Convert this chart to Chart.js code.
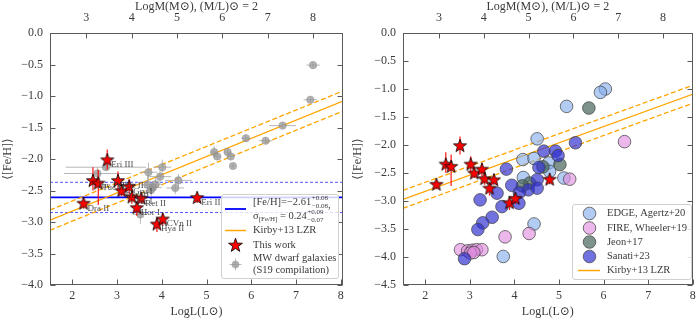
<!DOCTYPE html>
<html><head><meta charset="utf-8">
<script src="https://cdn.jsdelivr.net/npm/chart.js@4.4.1/dist/chart.umd.min.js"></script>
<style>
html,body{margin:0;padding:0;background:#fff;}
#wrap{display:flex;width:700px;height:321px;}
.c{position:relative;width:350px;height:321px;}
</style></head><body>
<div id="wrap"><div class="c"><canvas id="left"></canvas></div><div class="c"><canvas id="right"></canvas></div></div>
<script>
// ---------------- data ----------------
const xTicks = [2, 3, 4, 5, 6, 7, 8];
const mTicks = [3, 4, 5, 6, 7, 8];
const yTicksLeft = [0, -0.5, -1, -1.5, -2, -2.5, -3, -3.5, -4];
const yTicksRight = [0, -0.5, -1, -1.5, -2, -2.5, -3, -3.5, -4, -4.5];

// Kirby+13 luminosity-metallicity relation (end points) and its scatter
const kirbyX = [1.5, 8.05];
const kirbyMid = [-2.97, -1.08];
const kirbyUp = [-2.81, -0.92];
const kirbyLow = [-3.13, -1.24];

// mean [Fe/H] of this work and dispersion band
const meanX = [1.5, 8.05];
const meanFe = -2.61;
const meanHi = -2.37;
const meanLo = -2.85;

// This work (stars)
const starNames = ["Dra II", "Tuc IV", "Tuc II", "Eri III", "Phe II", "Ret III", "Gru I", "Pic I", "Ret II", "Hor I", "Hya II", "CVn II", "Eri II"];
const starL  = [2.25, 2.46, 2.58, 2.78, 3.02, 3.10, 3.27, 3.33, 3.54, 3.44, 3.89, 4.02, 4.79];
const starFe = [-2.71, -2.35, -2.39, -2.02, -2.35, -2.51, -2.44, -2.61, -2.63, -2.78, -3.04, -2.96, -2.62];
const starErrUp = [0.08, 0.22, 0.22, 0.17, 0.15, 0.08, 0.12, 0.08, 0.08, 0.10, 0.10, 0.10, 0.08];
const starErrDn = [0.08, 0.15, 0.34, 0.15, 0.15, 0.08, 0.12, 0.10, 0.08, 0.12, 0.12, 0.10, 0.08];

// MW dwarf galaxies (S19 compilation)
const mwL  = [7.38, 7.32, 6.70, 5.88, 6.32, 5.17, 5.24, 5.47, 5.54, 5.59, 4.01, 3.96, 4.37, 4.30, 3.70, 3.68, 3.80, 3.86, 3.76, 2.75, 2.56, 3.52];
const mwFe = [-0.51, -1.06, -1.47, -1.67, -1.71, -1.89, -1.96, -1.89, -1.96, -2.11, -2.13, -2.28, -2.34, -2.46, -2.21, -2.41, -2.45, -2.40, -2.49, -2.13, -2.23, -2.88];
const mwXerr = [0.15, 0.15, 0.30, 0.10, 0.15, 0.08, 0.08, 0.08, 0.08, 0.05, 0.20, 0.25, 0.30, 0.20, 0.20, 0.15, 0.20, 0.15, 0.10, 0.90, 0.75, 0.15];
const mwYerr = [0.04, 0.04, 0.04, 0.05, 0.05, 0.10, 0.05, 0.05, 0.05, 0.04, 0.12, 0.10, 0.10, 0.10, 0.15, 0.15, 0.10, 0.10, 0.10, 0.05, 0.10, 0.15];

// Simulations (right panel)
const edgeL  = [6.04, 5.93, 5.17, 4.51, 4.19, 4.44, 4.77, 4.79, 4.20, 5.11, 4.44, 3.75];
const edgeFe = [-1.00, -1.06, -1.31, -1.89, -2.26, -2.24, -2.32, -2.47, -2.58, -2.59, -3.41, -3.99];
const fireL  = [6.47, 5.24, 4.33, 3.79, 2.79, 2.95, 3.05, 3.15, 3.27, 3.01, 3.09];
const fireFe = [-1.94, -2.61, -3.58, -3.64, -3.87, -3.89, -3.88, -3.87, -3.87, -3.93, -3.92];
const jeonL  = [5.67, 5.02, 4.64, 4.34, 4.18];
const jeonFe = [-1.34, -2.35, -2.39, -2.68, -2.73];
const sanL  = [5.37, 4.66, 4.92, 4.98, 4.55, 3.82, 4.51, 3.94, 4.31, 4.51, 3.61, 4.11, 3.23, 3.72, 4.10, 3.50, 3.29, 3.18, 2.88];
const sanFe = [-1.96, -2.11, -2.11, -2.19, -2.40, -2.43, -2.62, -2.72, -2.80, -2.77, -2.86, -2.85, -2.98, -3.10, -3.04, -3.29, -3.39, -3.51, -4.03];

// ---------------- styling ----------------
const FONT = "'Liberation Serif', 'DejaVu Serif', serif";
const TXT = '#3a3a3a';
const FRAME = '#5a5a5a';
const ORANGE = '#ffa500';
const pts = (xs, ys) => xs.map((x, i) => ({x: x, y: ys[i]}));

function makeStar(R, r, lw) {
  const s = Math.ceil(2 * R + 2 * lw + 2);
  const c = document.createElement('canvas'); c.width = s; c.height = s;
  const g = c.getContext('2d');
  starPath(g, s / 2, s / 2, R, r);
  g.fillStyle = '#ff0000'; g.fill();
  g.lineWidth = lw; g.strokeStyle = '#000'; g.stroke();
  return c;
}
function starPath(g, cx, cy, R, r) {
  g.beginPath();
  for (let k = 0; k < 10; k++) {
    const a = -Math.PI / 2 + k * Math.PI / 5;
    const rad = k % 2 === 0 ? R : r;
    const x = cx + rad * Math.cos(a), y = cy + rad * Math.sin(a);
    if (k) g.lineTo(x, y); else g.moveTo(x, y);
  }
  g.closePath();
}
const starImg = makeStar(6.9, 2.8, 0.8);

function fmt(v) { return (v < 0 ? '\u2212' : '') + Math.abs(v).toFixed(1); }

function makeScales(yTicks, yMin, xMax, leftW) {
  const tickFont = {family: FONT, size: 12};
  return {
    x: {
      type: 'linear', position: 'bottom', min: 1.5, max: xMax,
      afterBuildTicks: s => { s.ticks = xTicks.map(v => ({value: v})); },
      afterFit: s => { s.height = 36; },
      grid: {display: false, drawTicks: false}, border: {display: false},
      ticks: {color: TXT, font: tickFont, padding: 4, maxRotation: 0, autoSkip: false, callback: v => String(v)},
      title: {display: true, text: 'LogL(L\u2299)', color: TXT, font: {family: FONT, size: 12}, padding: {top: 0, bottom: 2}}
    },
    x2: {
      type: 'linear', position: 'top', min: 2.2, max: 8.66,
      afterBuildTicks: s => { s.ticks = mTicks.map(v => ({value: v})); },
      afterFit: s => { s.height = 33; },
      grid: {display: false, drawTicks: false}, border: {display: false},
      ticks: {color: TXT, font: tickFont, padding: 8, maxRotation: 0, autoSkip: false, callback: v => String(v)},
      title: {display: true, text: 'LogM(M\u2299), (M/L)\u2299 = 2', color: TXT, font: {family: FONT, size: 12}, padding: {top: 0, bottom: 0}}
    },
    y: {
      type: 'linear', position: 'left', min: yMin, max: 0,
      afterBuildTicks: s => { s.ticks = yTicks.map(v => ({value: v})); },
      afterFit: s => { s.width = leftW; },
      grid: {display: false, drawTicks: false}, border: {display: false},
      ticks: {color: TXT, font: tickFont, padding: 7, autoSkip: false, callback: v => fmt(v)},
      title: {display: true, text: '\u27E8[Fe/H]\u27E9', color: TXT, font: {family: FONT, size: 12}, padding: {top: 1, bottom: 0}}
    }
  };
}

// frame + inward ticks
const framePlugin = {
  id: 'frameTicks',
  afterDatasetsDraw(chart) {
    const {ctx, chartArea: a, scales} = chart;
    ctx.save();
    ctx.strokeStyle = FRAME; ctx.lineWidth = 1;
    const L = Math.round(a.left) + 0.5, R = Math.round(a.right) - 0.5, T = Math.round(a.top) + 0.5, B = Math.round(a.bottom) - 0.5;
    ctx.strokeRect(L, T, R - L, B - T);
    ctx.beginPath();
    scales.y.ticks.forEach(t => {
      const p = Math.round(scales.y.getPixelForValue(t.value)) + 0.5;
      ctx.moveTo(L, p); ctx.lineTo(L + 5, p);
      ctx.moveTo(R, p); ctx.lineTo(R - 5, p);
    });
    scales.x.ticks.forEach(t => {
      const p = Math.round(scales.x.getPixelForValue(t.value)) + 0.5;
      ctx.moveTo(p, B); ctx.lineTo(p, B - 5);
    });
    scales.x2.ticks.forEach(t => {
      const p = Math.round(scales.x2.getPixelForValue(t.value)) + 0.5;
      ctx.moveTo(p, T); ctx.lineTo(p, T + 5);
    });
    ctx.stroke();
    ctx.restore();
  }
};

// error bars drawn under each dataset's markers
const errPlugin = {
  id: 'errbars',
  beforeDatasetDraw(chart, args) {
    const ds = chart.data.datasets[args.index];
    if (!ds.err) return;
    const {ctx, chartArea: a} = chart;
    const xs = chart.scales.x, ys = chart.scales.y, e = ds.err;
    ctx.save();
    ctx.beginPath(); ctx.rect(a.left, a.top, a.right - a.left, a.bottom - a.top); ctx.clip();
    ctx.strokeStyle = e.color; ctx.lineWidth = e.width;
    ctx.beginPath();
    ds.data.forEach((p, i) => {
      const px = xs.getPixelForValue(p.x), py = ys.getPixelForValue(p.y);
      if (e.up) {
        ctx.moveTo(px, ys.getPixelForValue(p.y + e.up[i]));
        ctx.lineTo(px, ys.getPixelForValue(p.y - e.dn[i]));
      }
      if (e.xe) {
        ctx.moveTo(xs.getPixelForValue(p.x - e.xe[i]), py);
        ctx.lineTo(xs.getPixelForValue(p.x + e.xe[i]), py);
      }
    });
    ctx.stroke();
    ctx.restore();
  }
};

// names next to stars
const namePlugin = {
  id: 'names',
  afterDatasetsDraw(chart) {
    const {ctx} = chart;
    chart.data.datasets.forEach(ds => {
      if (!ds.names) return;
      ctx.save();
      ctx.font = '9px ' + FONT; ctx.fillStyle = 'rgba(45,45,45,0.85)';
      ctx.textBaseline = 'middle'; ctx.textAlign = 'left';
      ds.data.forEach((p, i) => {
        const px = chart.scales.x.getPixelForValue(p.x), py = chart.scales.y.getPixelForValue(p.y);
        ctx.fillText(ds.names[i], px + 4, py + 4.5);
      });
      ctx.restore();
    });
  }
};

function roundBox(ctx, x, y, w, h, r) {
  ctx.beginPath();
  ctx.moveTo(x + r, y); ctx.lineTo(x + w - r, y); ctx.arcTo(x + w, y, x + w, y + r, r);
  ctx.lineTo(x + w, y + h - r); ctx.arcTo(x + w, y + h, x + w - r, y + h, r);
  ctx.lineTo(x + r, y + h); ctx.arcTo(x, y + h, x, y + h - r, r);
  ctx.lineTo(x, y + r); ctx.arcTo(x, y, x + r, y, r); ctx.closePath();
  ctx.fillStyle = 'rgba(255,255,255,0.82)'; ctx.fill();
  ctx.strokeStyle = '#d0d0d0'; ctx.lineWidth = 1; ctx.stroke();
}
function txt(ctx, s, x, y, size) {
  ctx.font = size + 'px ' + FONT;
  ctx.fillText(s, x, y);
  return x + ctx.measureText(s).width;
}
function supsub(ctx, x, y, sup, sub) {
  const a = txt(ctx, sup, x, y - 4, 7);
  const b = txt(ctx, sub, x, y + 4, 7);
  return Math.max(a, b);
}

const leftLegend = {
  id: 'leftLegend',
  afterDraw(chart) {
    const ctx = chart.ctx;
    ctx.save();
    roundBox(ctx, 221.5, 194.5, 117, 84, 2.5);
    ctx.fillStyle = TXT; ctx.textBaseline = 'middle'; ctx.textAlign = 'left';
    // blue mean line
    ctx.strokeStyle = '#0000ff'; ctx.lineWidth = 1.8;
    ctx.beginPath(); ctx.moveTo(225, 209); ctx.lineTo(246, 209); ctx.stroke();
    let x = txt(ctx, '[Fe/H]=\u22122.61', 253, 202, 10.5);
    x = supsub(ctx, x + 0.5, 202, '+0.08', '\u22120.08');
    txt(ctx, ',', x, 205, 10.5);
    x = txt(ctx, '\u03C3', 253, 216.5, 10.5);
    x = txt(ctx, '[Fe/H]', x, 219.5, 7);
    x = txt(ctx, ' = 0.24', x, 216.5, 10.5);
    supsub(ctx, x + 0.5, 216.5, '+0.09', '\u22120.07');
    // Kirby
    ctx.strokeStyle = ORANGE; ctx.lineWidth = 1.5;
    ctx.beginPath(); ctx.moveTo(225, 230.5); ctx.lineTo(246, 230.5); ctx.stroke();
    txt(ctx, 'Kirby+13 LZR', 253, 230.5, 10.5);
    // star
    starPath(ctx, 235.5, 245.5, 7.3, 2.9);
    ctx.fillStyle = '#ff0000'; ctx.fill(); ctx.strokeStyle = '#000'; ctx.lineWidth = 0.8; ctx.stroke();
    ctx.fillStyle = TXT;
    txt(ctx, 'This work', 253, 245.5, 10.5);
    // MW
    ctx.strokeStyle = '#bbbbbb'; ctx.lineWidth = 1;
    ctx.beginPath(); ctx.moveTo(229.5, 264.5); ctx.lineTo(241.5, 264.5); ctx.moveTo(235.5, 258.5); ctx.lineTo(235.5, 270.5); ctx.stroke();
    ctx.beginPath(); ctx.arc(235.5, 264.5, 3.8, 0, 2 * Math.PI);
    ctx.fillStyle = 'rgba(150,150,150,0.75)'; ctx.fill();
    ctx.fillStyle = TXT;
    txt(ctx, 'MW dwarf galaxies', 253, 258.5, 10.5);
    txt(ctx, '(S19 compilation)', 253, 270.5, 10.5);
    ctx.restore();
  }
};

const EDGE_C = 'rgba(130,172,235,0.62)';
const FIRE_C = 'rgba(225,140,225,0.62)';
const JEON_C = 'rgba(75,105,95,0.72)';
const SAN_C = 'rgba(45,45,210,0.68)';
const EDGE_LINE = 'rgba(70,70,70,0.75)';

const rightLegend = {
  id: 'rightLegend',
  afterDraw(chart) {
    const ctx = chart.ctx;
    ctx.save();
    roundBox(ctx, 222.5, 204.5, 119, 75, 2.5);
    ctx.textBaseline = 'middle'; ctx.textAlign = 'left';
    const rows = [[EDGE_C, 'EDGE, Agertz+20', 213.5], [FIRE_C, 'FIRE, Wheeler+19', 228], [JEON_C, 'Jeon+17', 242], [SAN_C, 'Sanati+23', 256.5]];
    rows.forEach(r => {
      ctx.beginPath(); ctx.arc(239.5, r[2], 6.3, 0, 2 * Math.PI);
      ctx.fillStyle = r[0]; ctx.fill(); ctx.strokeStyle = EDGE_LINE; ctx.lineWidth = 1; ctx.stroke();
      ctx.fillStyle = TXT; txt(ctx, r[1], 257, r[2], 10.5);
    });
    ctx.strokeStyle = ORANGE; ctx.lineWidth = 1.5;
    ctx.beginPath(); ctx.moveTo(228, 270.5); ctx.lineTo(250, 270.5); ctx.stroke();
    ctx.fillStyle = TXT; txt(ctx, 'Kirby+13 LZR', 257, 270.5, 10.5);
    ctx.restore();
  }
};

function lineDs(xs, ys, color, width, dash, order) {
  return {data: pts(xs, ys), showLine: true, borderColor: color, borderWidth: width, borderDash: dash,
          pointRadius: 0, pointHoverRadius: 0, fill: false, order: order};
}
function starDs() {
  return {data: pts(starL, starFe), pointStyle: starImg, pointRadius: 6, order: 0,
          err: {up: starErrUp, dn: starErrDn, color: 'rgba(255,0,0,0.85)', width: 1.3}};
}
function circDs(xs, ys, color, order) {
  return {data: pts(xs, ys), pointStyle: 'circle', pointRadius: 6.3, backgroundColor: color,
          borderColor: EDGE_LINE, borderWidth: 1, order: order};
}

const common = {
  type: 'scatter',
  options: {
    responsive: true, maintainAspectRatio: false, animation: false, devicePixelRatio: 1,
    events: [],
    plugins: {legend: {display: false}, tooltip: {enabled: false}},
  }
};

// ---------------- left chart ----------------
const leftSets = [
  starDs(),
  {data: pts(mwL, mwFe), pointStyle: 'circle', pointRadius: 3.8, backgroundColor: 'rgba(150,150,150,0.72)',
   borderColor: 'rgba(130,130,130,0.6)', borderWidth: 0.5, order: 4,
   err: {up: mwYerr, dn: mwYerr, xe: mwXerr, color: 'rgba(175,175,175,0.9)', width: 1}},
  lineDs(kirbyX, kirbyMid, ORANGE, 1.3, [], 5),
  lineDs(kirbyX, kirbyUp, ORANGE, 1.3, [5, 2.5], 5),
  lineDs(kirbyX, kirbyLow, ORANGE, 1.3, [5, 2.5], 5),
  lineDs(meanX, [meanFe, meanFe], '#0000ff', 1.8, [], 6),
  lineDs(meanX, [meanHi, meanHi], 'rgba(30,30,255,0.85)', 0.9, [3, 2], 6),
  lineDs(meanX, [meanLo, meanLo], 'rgba(30,30,255,0.85)', 0.9, [3, 2], 6)
];
leftSets[0].names = starNames;

new Chart(document.getElementById('left'), {
  type: 'scatter',
  data: {datasets: leftSets},
  options: Object.assign({}, common.options, {
    layout: {padding: {left: 0, right: 7, top: 0, bottom: 0}},
    scales: makeScales(yTicksLeft, -4, 8.05, 50)
  }),
  plugins: [errPlugin, namePlugin, framePlugin, leftLegend]
});

// ---------------- right chart ----------------
const rightSets = [
  starDs(),
  circDs(sanL, sanFe, SAN_C, 1),
  circDs(jeonL, jeonFe, JEON_C, 2),
  circDs(fireL, fireFe, FIRE_C, 3),
  circDs(edgeL, edgeFe, EDGE_C, 4),
  lineDs(kirbyX, kirbyMid, ORANGE, 1.3, [], 5),
  lineDs(kirbyX, kirbyUp, ORANGE, 1.3, [5, 2.5], 5),
  lineDs(kirbyX, kirbyLow, ORANGE, 1.3, [5, 2.5], 5)
];

new Chart(document.getElementById('right'), {
  type: 'scatter',
  data: {datasets: rightSets},
  options: Object.assign({}, common.options, {
    layout: {padding: {left: 0, right: 6, top: 0, bottom: 0}},
    scales: makeScales(yTicksRight, -4.5, 8, 53)
  }),
  plugins: [errPlugin, framePlugin, rightLegend]
});
</script>
</body></html>
